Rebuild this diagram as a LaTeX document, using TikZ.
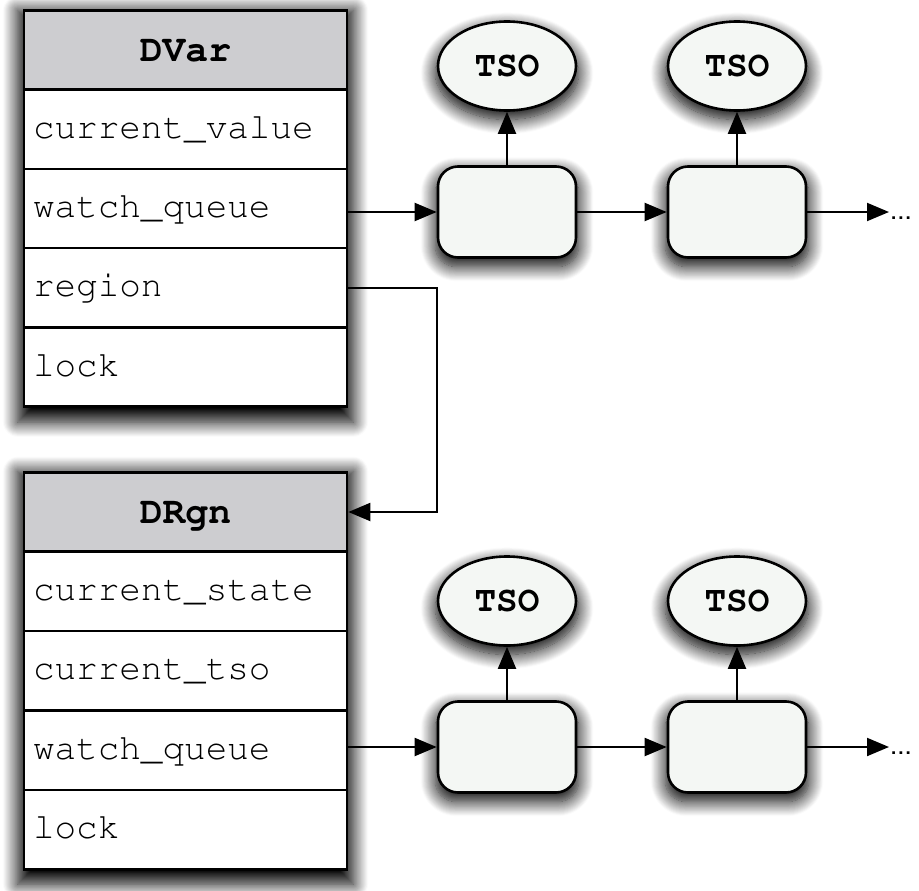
\documentclass[tikz,border=0pt]{standalone}
\usepackage[T1]{fontenc}
\usepackage{courier}
\usetikzlibrary{positioning,arrows.meta,shapes.geometric,shadows.blur}
\definecolor{hdrgray}{RGB}{205,205,208}
\definecolor{cellfill}{RGB}{244,247,244}

\tikzset{
  softshadow/.style={blur shadow={shadow xshift=0pt,shadow yshift=-7pt,shadow scale=1.04,
    shadow blur radius=14pt,shadow blur steps=16,shadow opacity=100}},
  frame/.style={draw=none,fill=white,softshadow,minimum width=323pt,inner sep=0pt},
  field/.style={draw,line width=2.6pt,fill=white,minimum width=323pt,minimum height=79.3pt,
    text width=305pt,inner xsep=9pt,align=left,text height=18pt,text depth=0pt,
    font=\fontsize{36}{40}\selectfont\ttfamily},
  header/.style={field,fill=hdrgray,align=center,text height=23pt,
    font=\fontsize{38}{40}\selectfont\ttfamily\bfseries},
  tso/.style={ellipse,draw,line width=2.6pt,fill=cellfill,softshadow,minimum width=138pt,
    minimum height=89pt,inner sep=0pt,font=\fontsize{36}{40}\selectfont\ttfamily\bfseries},
  cell/.style={rectangle,rounded corners=20pt,draw,line width=2.6pt,fill=cellfill,softshadow,
    minimum width=138pt,minimum height=91pt},
  link/.style={line width=2pt,-{Triangle[length=22pt,width=18pt]}},
  more/.style={anchor=west,inner sep=1pt,text height=15pt,text depth=0pt,
    font=\fontsize{26}{30}\fontfamily{phv}\selectfont}
}

\begin{document}
\begin{tikzpicture}[x=1pt,y=-1pt]
  \useasboundingbox (0,0) rectangle (919,891);

  % DVar record
  \node[frame,minimum height=396pt] (dvar) at (185.5,209) {};
  \node[header] (dvar-0) at (185.5,50) {DVar};
  \foreach \lbl [count=\i] in {current\_value,watch\_queue,region,lock}
    \node[field] (dvar-\i) at (185.5,50+79.25*\i) {\lbl};

  % DRgn record
  \node[frame,minimum height=397pt] (drgn) at (185.5,670.5) {};
  \node[header] (drgn-0) at (185.5,512) {DRgn};
  \foreach \lbl [count=\i] in {current\_state,current\_tso,watch\_queue,lock}
    \node[field] (drgn-\i) at (185.5,512+79.4*\i) {\lbl};

  % wait queues
  \foreach \r/\y in {a/0,b/535}{
    \node[tso] (tso-\r1) at (507,66+\y) {TSO};
    \node[tso] (tso-\r2) at (737,66+\y) {TSO};
    \node[cell] (cell-\r1) at (507,212+\y) {};
    \node[cell] (cell-\r2) at (737,212+\y) {};
    \node[more] (more-\r) at (889,212+\y) {...};
    \draw[link] (cell-\r1) -- (tso-\r1);
    \draw[link] (cell-\r2) -- (tso-\r2);
    \draw[link] (cell-\r1) -- (cell-\r2);
    \draw[link] (cell-\r2) -- (more-\r);
  }
  \draw[link] (dvar-2.east |- cell-a1.west) -- (cell-a1);
  \draw[link] (drgn-3.east |- cell-b1.west) -- (cell-b1);

  % region pointer
  \draw[link] (dvar-3.east) -| (cell-a1.west |- drgn-0.east) -- (drgn-0.east);
\end{tikzpicture}
\end{document}
